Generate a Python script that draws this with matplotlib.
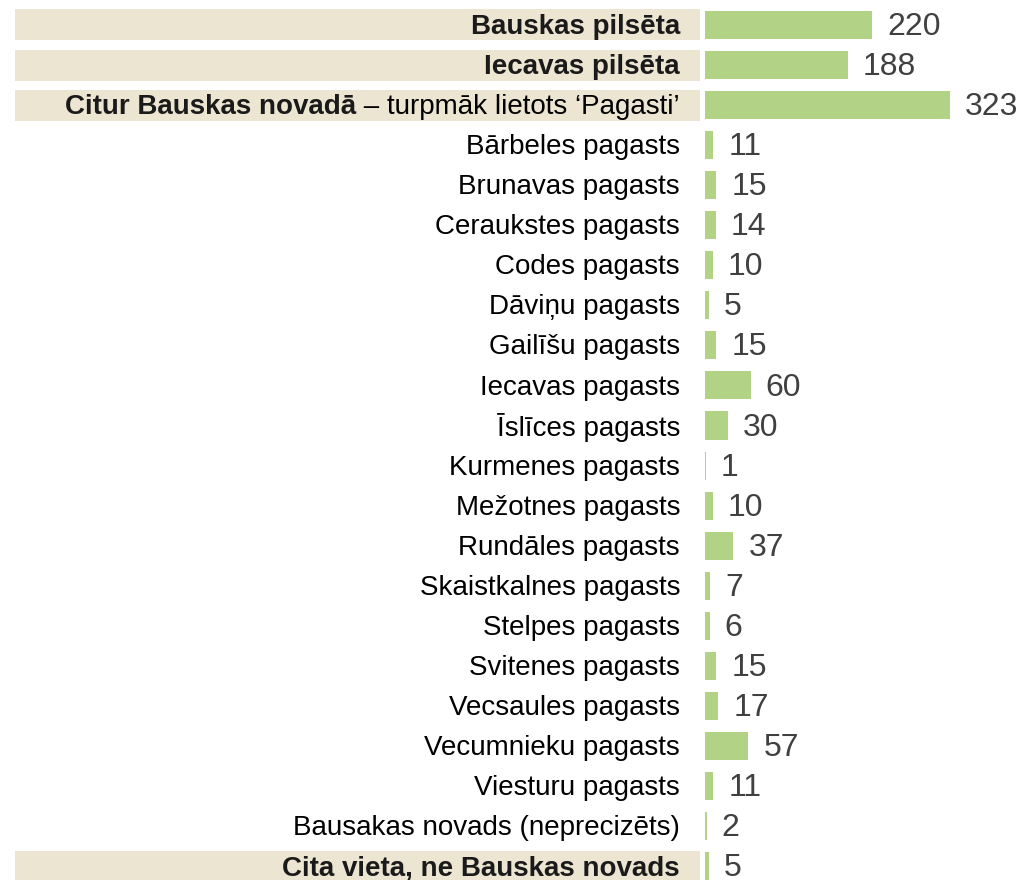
import matplotlib
matplotlib.use("Agg")
import matplotlib.pyplot as plt
from matplotlib.patches import Rectangle

plt.rcParams['font.family'] = ['Liberation Sans', 'DejaVu Sans']

categories = [
    "Bauskas pilsēta", "Iecavas pilsēta", "Citur Bauskas novadā",
    "Bārbeles pagasts", "Brunavas pagasts", "Ceraukstes pagasts", "Codes pagasts",
    "Dāviņu pagasts", "Gailīšu pagasts", "Iecavas pagasts", "Īslīces pagasts",
    "Kurmenes pagasts", "Mežotnes pagasts", "Rundāles pagasts", "Skaistkalnes pagasts",
    "Stelpes pagasts", "Svitenes pagasts", "Vecsaules pagasts", "Vecumnieku pagasts",
    "Viesturu pagasts", "Bausakas novads (neprecizēts)", "Cita vieta, ne Bauskas novads",
]
values = [220, 188, 323, 11, 15, 14, 10, 5, 15, 60, 30, 1, 10, 37, 7, 6, 15, 17, 57, 11, 2, 5]
highlighted = [0, 1, 2, 21]
suffix_label = {2: " – turpmāk lietots ‘Pagasti’"}

W, H, DPI = 1025, 880, 100
fig = plt.figure(figsize=(W / DPI, H / DPI), dpi=DPI)

bar_x0 = 705
px_per_unit = 245 / 323
row0, row_step = 25, 40.05
ylim = ((H - row0) / row_step, -row0 / row_step)

bg = fig.add_axes([0, 0, 1, 1])
bg.set_xlim(0, W)
bg.set_ylim(*ylim)
bg.axis('off')

ax = fig.add_axes([bar_x0 / W, 0, 1 - bar_x0 / W, 1])
ax.set_xlim(0, (W - bar_x0) / px_per_unit)
ax.set_ylim(*ylim)
ax.axis('off')

ypos = list(range(len(categories)))
ax.barh(ypos, values, height=0.70, color="#b2d385", edgecolor="none")
for y, v in zip(ypos, values):
    ax.annotate(str(v), xy=(v, y), xytext=(11, -1.5), textcoords='offset points',
                ha='left', va='center', fontsize=23, color='#404040')

band_h = 31 / row_step
label_right = 680
label_fs = 20
fig.canvas.draw()
renderer = fig.canvas.get_renderer()
for i, (y, cat) in enumerate(zip(ypos, categories)):
    if i in highlighted:
        bg.add_patch(Rectangle((15, y - band_h / 2), 685, band_h,
                               facecolor="#ebe5d1", edgecolor="none"))
    if i in suffix_label:
        t = bg.annotate(suffix_label[i], xy=(label_right, y), xytext=(0, -1.5),
                        textcoords='offset points', ha='right', va='center',
                        fontsize=label_fs, color='black')
        ext = t.get_window_extent(renderer=renderer)
        inv = bg.transData.inverted()
        xleft = inv.transform((ext.x0, 0))[0]
        bg.annotate(cat, xy=(xleft, y), xytext=(0, -1.5), textcoords='offset points',
                    ha='right', va='center', fontsize=label_fs,
                    fontweight='bold', color='#1a1a1a')
    else:
        bg.annotate(cat, xy=(label_right, y), xytext=(0, -1.5), textcoords='offset points',
                    ha='right', va='center', fontsize=label_fs,
                    fontweight='bold' if i in highlighted else 'normal',
                    color='#1a1a1a' if i in highlighted else 'black')

fig.savefig("out.png", dpi=DPI, facecolor='white')
